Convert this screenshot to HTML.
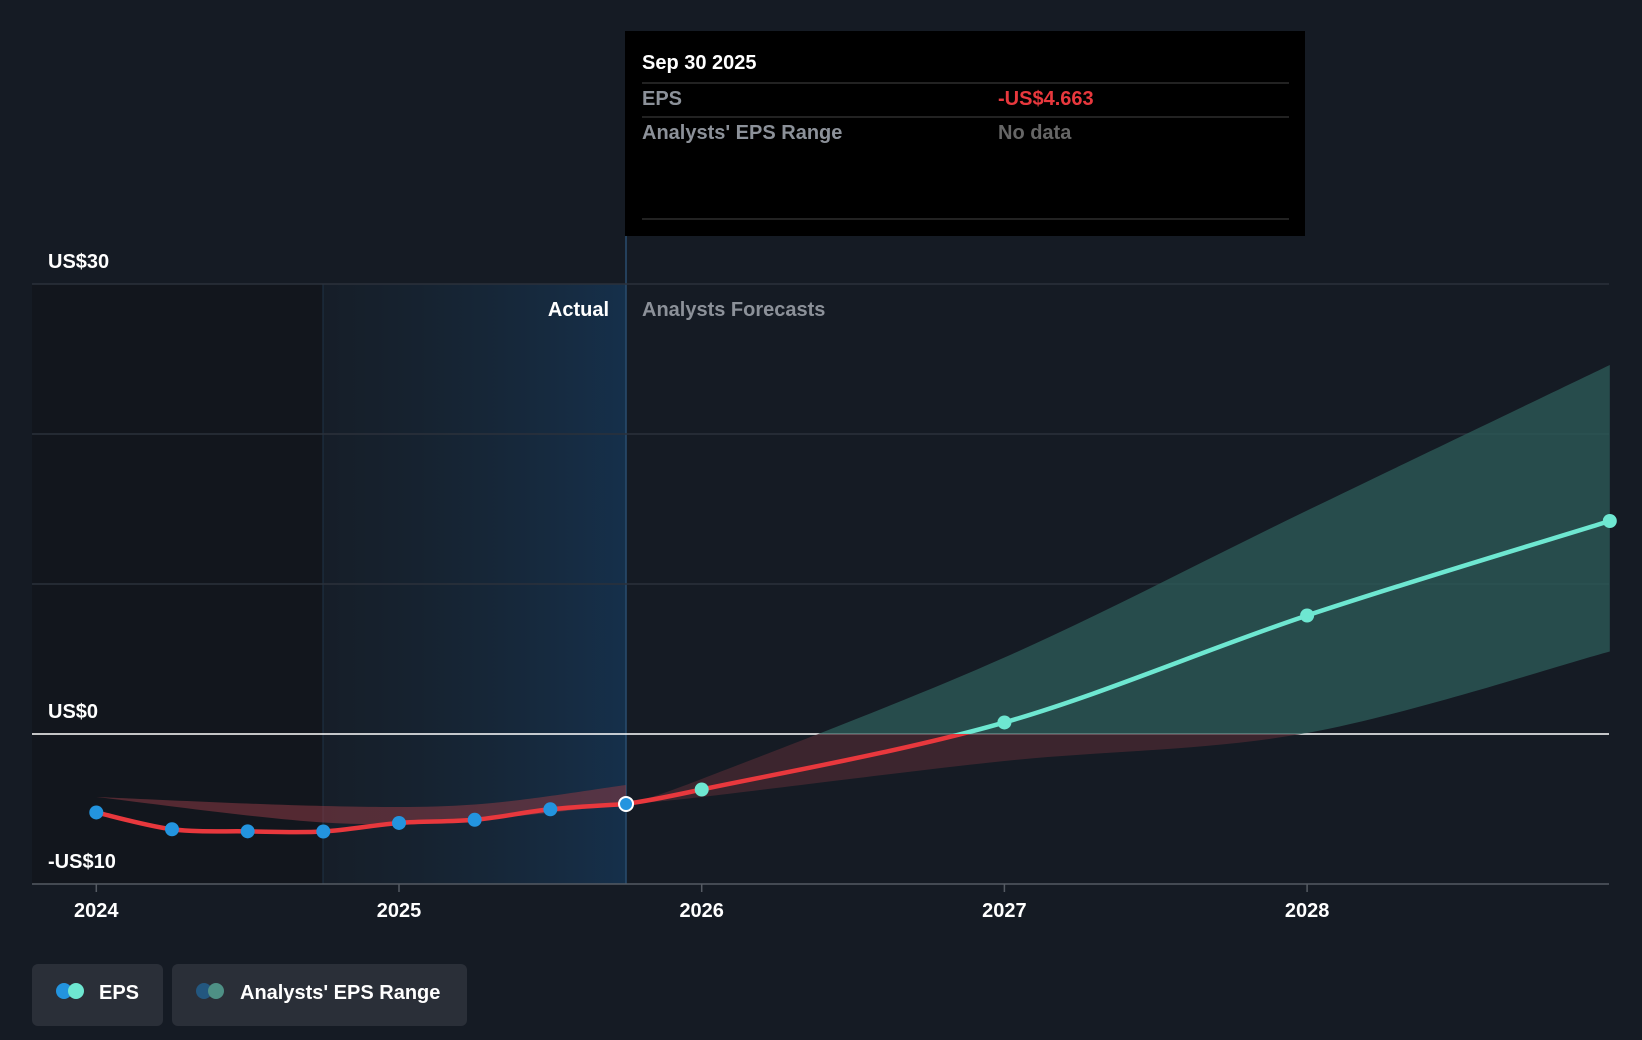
<!DOCTYPE html>
<html><head><meta charset="utf-8"><style>
body{margin:0;background:#151b24;width:1642px;height:1040px;overflow:hidden;font-family:"Liberation Sans",sans-serif}
svg{position:absolute;left:0;top:0}
</style></head><body>
<svg width="1642" height="1040">
<defs>
<linearGradient id="hl" x1="0" x2="1" y1="0" y2="0"><stop offset="0" stop-color="#1a2a3a" stop-opacity="0.2"/><stop offset="1" stop-color="#15324f" stop-opacity="0.9"/></linearGradient>
<clipPath id="neg"><rect x="0" y="734" width="1642" height="400"/></clipPath>
<clipPath id="pos"><rect x="0" y="0" width="1642" height="734"/></clipPath>
</defs>
<rect x="32" y="284" width="291" height="600" fill="#12161d"/>
<rect x="323" y="284" width="303" height="600" fill="url(#hl)"/>
<line x1="323" x2="323" y1="284" y2="884" stroke="#1f3346" stroke-width="1"/>
<line x1="626" x2="626" y1="236" y2="884" stroke="#2a4d6e" stroke-width="1.5"/>
<g id="grid"></g>
<g id="marks"></g>
<text x="609" y="316" fill="#fff" font-size="20" font-weight="bold" text-anchor="end">Actual</text>
<text x="642" y="316" fill="#8c9199" font-size="20" font-weight="bold">Analysts Forecasts</text>
<g>
<rect x="625" y="31" width="680" height="205" fill="#000"/>
<text x="642" y="69" fill="#fff" font-size="20" font-weight="bold">Sep 30 2025</text>
<line x1="642" x2="1289" y1="83" y2="83" stroke="#444"/>
<text x="642" y="105" fill="#8c9199" font-size="20" font-weight="bold">EPS</text>
<text x="998" y="105" fill="#e8383d" font-size="20" font-weight="bold">-US$4.663</text>
<line x1="642" x2="1289" y1="117" y2="117" stroke="#444"/>
<text x="642" y="139" fill="#8c9199" font-size="20" font-weight="bold">Analysts' EPS Range</text>
<text x="998" y="139" fill="#666" font-size="20" font-weight="bold">No data</text>
<line x1="642" x2="1289" y1="219" y2="219" stroke="#444"/>
</g>
<g>
<rect x="32" y="964" width="131" height="62" rx="6" fill="#2a2f38"/>
<circle cx="64" cy="991" r="8" fill="#2394df"/><circle cx="76" cy="991" r="8" fill="#6ee7d1"/>
<text x="99" y="999" fill="#fff" font-size="20" font-weight="bold">EPS</text>
<rect x="172" y="964" width="295" height="62" rx="6" fill="#2a2f38"/>
<circle cx="204" cy="991" r="8" fill="#23577f"/><circle cx="216" cy="991" r="8" fill="#4e9085"/>
<text x="240" y="999" fill="#fff" font-size="20" font-weight="bold">Analysts' EPS Range</text>
</g>
</svg>
<script>
const actualDates=[2024,2024.25,2024.5,2024.75,2025,2025.25,2025.5,2025.75];
const actualEps=[-5.23,-6.35,-6.49,-6.5,-5.93,-5.72,-5.02,-4.663];
const pastRangeDates=[2024,2024.75,2025.25,2025.75];
const pastRangeHigh=[-4.2,-4.8,-4.7,-3.4];
const pastRangeLow=[-4.2,-5.9,-5.7,-4.663];
const fcDates=[2025.75,2026,2027,2028,2029];
const fcEps=[-4.663,-3.7,0.77,7.9,14.2];
const fcHigh=[-4.663,-3.0,5.1,14.9,24.6];
const fcLow=[-4.663,-4.2,-1.8,0.07,5.5];
const yTicks=[30,20,10,0,-10];
const yLabels={30:"US$30",0:"US$0","-10":"-US$10"};
const xTicks=[2024,2025,2026,2027,2028];
const X=d=>96.3+(d-2024)*302.7, Y=v=>734-v*15;
const NS="http://www.w3.org/2000/svg";
function el(t,a,p){const e=document.createElementNS(NS,t);for(const k in a)e.setAttribute(k,a[k]);(p||document.getElementById('marks')).appendChild(e);return e;}
function smooth(pts,move){let s=(move?'M':'L')+pts[0][0]+','+pts[0][1];
for(let i=0;i<pts.length-1;i++){const p0=pts[i-1]||pts[i],p1=pts[i],p2=pts[i+1],p3=pts[i+2]||p2;
s+='C'+(p1[0]+(p2[0]-p0[0])/6)+','+(p1[1]+(p2[1]-p0[1])/6)+' '+(p2[0]-(p3[0]-p1[0])/6)+','+(p2[1]-(p3[1]-p1[1])/6)+' '+p2[0]+','+p2[1];}
return s;}
const g=document.getElementById('grid');
yTicks.forEach(v=>{const l=el('line',{x1:32,x2:1609,y1:Y(v),y2:Y(v),stroke:v===0?'#fff':(v===-10?'#555b63':'#2b313b'),'stroke-width':1.5},g);


if(yLabels[v]){const t=el('text',{x:48,y:Y(v)-16,fill:'#fff','font-size':20,'font-weight':'bold'},g);t.textContent=yLabels[v];

}});
xTicks.forEach(d=>{const l=el('line',{x1:X(d),x2:X(d),y1:884,y2:892,stroke:'#555b63','stroke-width':1.5},g);


const t=el('text',{x:X(d),y:917,fill:'#fff','font-size':20,'font-weight':'bold','text-anchor':'middle'},g);t.textContent=d;

});
function bandPath(ds,hi,lo){const top=ds.map((d,i)=>[X(d),Y(hi[i])]);const bot=ds.map((d,i)=>[X(d),Y(lo[i])]).reverse();
return smooth(top,true)+smooth(bot,false)+'Z';}
const fb=el('path',{d:bandPath(fcDates,fcHigh,fcLow),fill:'#2e5e5a','fill-opacity':0.75,'clip-path':'url(#pos)'});


const fbn=el('path',{d:bandPath(fcDates,fcHigh,fcLow),fill:'#4a2a32','fill-opacity':0.75,'clip-path':'url(#neg)'});


const pb=el('path',{d:bandPath(pastRangeDates,pastRangeHigh,pastRangeLow),fill:'#8a3a44','fill-opacity':0.55});


const fpts=fcDates.map((d,i)=>[X(d),Y(fcEps[i])]);
const fl=el('path',{d:smooth(fpts,true),fill:'none',stroke:'#6ee7d1','stroke-width':4.5,'clip-path':'url(#pos)'});


const fr=el('path',{d:smooth(fpts,true),fill:'none',stroke:'#e8383d','stroke-width':4.5,'clip-path':'url(#neg)'});


const al=el('path',{d:smooth(actualDates.map((d,i)=>[X(d),Y(actualEps[i])]),true),fill:'none',stroke:'#e8383d','stroke-width':4.5});


actualDates.forEach((d,i)=>{const last=i===actualDates.length-1;
const c=el('circle',{cx:X(d),cy:Y(actualEps[i]),r:7,fill:'#2394df',stroke:last?'#fff':'none','stroke-width':2});

});
fcDates.slice(1).forEach((d,i)=>{const c=el('circle',{cx:X(d),cy:Y(fcEps[i+1]),r:7,fill:'#6ee7d1'});

});
</script>
</body></html>
